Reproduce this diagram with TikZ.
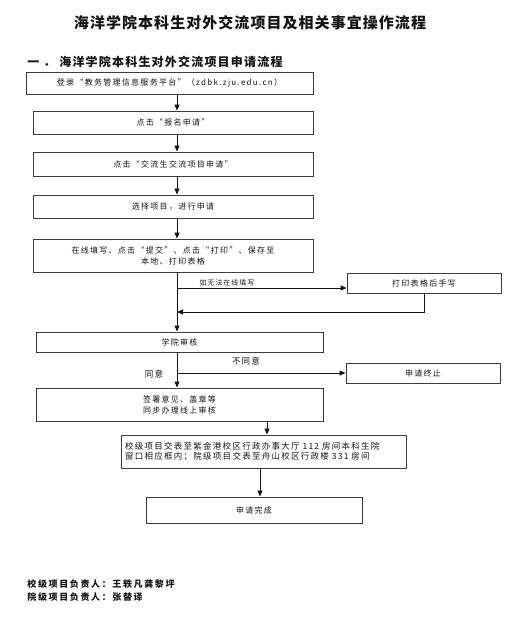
\documentclass[tikz,border=0pt]{standalone}
\usepackage{fontspec}
\setmainfont{Noto Sans CJK SC}
\usetikzlibrary{arrows.meta,positioning,calc}
\definecolor{ink}{RGB}{20,20,20}
\definecolor{edge}{RGB}{60,60,60}
\tikzset{
  every picture/.style={color=ink, line width=0.9pt},
  box/.style={draw=edge, fill=white, inner sep=3pt, align=center,
    font=\fontsize{8}{11}\selectfont\addfontfeatures{LetterSpace=16}},
  wide/.style={box, minimum width=280pt},
  side/.style={box, minimum width=154pt, minimum height=20pt},
  flow/.style={-{Triangle[length=6pt,width=5pt]}, line width=0.9pt, color=ink},
  lbl/.style={font=\fontsize{7}{8}\selectfont\addfontfeatures{LetterSpace=14}, inner sep=1pt},
  cond/.style={font=\fontsize{8.5}{10}\selectfont\addfontfeatures{LetterSpace=14}, inner sep=1pt},
  heading/.style={font=\bfseries\fontsize{12}{14}\selectfont\addfontfeatures{LetterSpace=10}, anchor=west, inner sep=0pt},
  footer/.style={font=\bfseries\fontsize{9}{11}\selectfont\addfontfeatures{LetterSpace=18}, anchor=west, inner sep=0pt},
}
\begin{document}
\begin{tikzpicture}[x=1pt, y=-1pt]
  \useasboundingbox (0,0) rectangle (515,617);
  % title and section heading
  \node[font=\bfseries\fontsize{15}{18}\selectfont\addfontfeatures{LetterSpace=7}] (title) at (250,23) {海洋学院本科生对外交流项目及相关事宜操作流程};
  \node[heading] (section) at (27,62) {一 ． 海洋学院本科生对外交流项目申请流程};
  % main column of steps
  \node[box, minimum width=287pt, minimum height=22pt] (login) at (169.5,83) {登录“教务管理信息服务平台”（zdbk.zju.edu.cn）};
  \node[wide, minimum height=23pt] (signup)   at (173,122.5) {点击“报名申请”};
  \node[wide, minimum height=24pt] (exchange) at (173,164)   {点击“交流生交流项目申请”};
  \node[wide, minimum height=23pt] (choose)   at (173,206.5) {选择项目，进行申请};
  \node[wide, minimum height=33pt] (fillin)   at (173,255.5) {在线填写、点击“提交”、点击“打印”、保存至\\本地、打印表格};
  \node[side] (handwrite) at (424,283) {打印表格后手写};
  \node[box, minimum width=287pt, minimum height=20pt] (review) at (179.5,342) {学院审核};
  \node[side] (stop) at (423,373) {申请终止};
  \node[box, minimum width=287pt, minimum height=33pt] (sign) at (179.5,404.5) {签署意见、盖章等\\同步办理线上审核};
  \node[box, minimum width=285pt, minimum height=33pt, text width=277pt, align=left, inner sep=4pt, font=\fontsize{8.5}{10.5}\selectfont\addfontfeatures{LetterSpace=15}] (submit) at (263.5,451.5) {校级项目交表至紫金港校区行政办事大厅 112 房间本科生院\\窗口相应框内；院级项目交表至舟山校区行政楼 331 房间};
  \node[box, minimum width=216pt, minimum height=26pt] (done) at (254,510) {申请完成};
  % connector guides
  \coordinate (spine) at (177,0);
  \coordinate (fork) at (177,288);
  \coordinate (rejoin) at (177,312);
  \coordinate (split) at (177,373);
  \coordinate (handin) at (267,0);
  \coordinate (finish) at (260,0);
  \draw[flow] (login.south -| spine) -- (signup.north -| spine);
  \draw[flow] (signup.south -| spine) -- (exchange.north -| spine);
  \draw[flow] (exchange.south -| spine) -- (choose.north -| spine);
  \draw[flow] (choose.south -| spine) -- (fillin.north -| spine);
  \draw[flow] (fillin.south -| spine) -- (review.north -| spine);
  \draw[flow] (fork) -- (fork -| handwrite.west);
  \draw[flow] (handwrite.south) |- (rejoin);
  \draw[flow] (review.south -| spine) -- (sign.north -| spine);
  \draw[flow] (split) -- (stop.west);
  \draw[flow] (sign.south -| handin) -- (submit.north -| handin);
  \draw[flow] (submit.south -| finish) -- (done.north -| finish);
  % branch labels
  \node[lbl] (manual) at (227,283) {如无法在线填写};
  \node[cond] (refuse) at (246,361) {不同意};
  \node[cond] (agree) at (154,374) {同意};
  % people in charge
  \node[footer] (school) at (27,584) {校级项目负责人：王轶凡龚黎坪};
  \node[footer] (college) at (27,597) {院级项目负责人：张替译};
\end{tikzpicture}
\end{document}
